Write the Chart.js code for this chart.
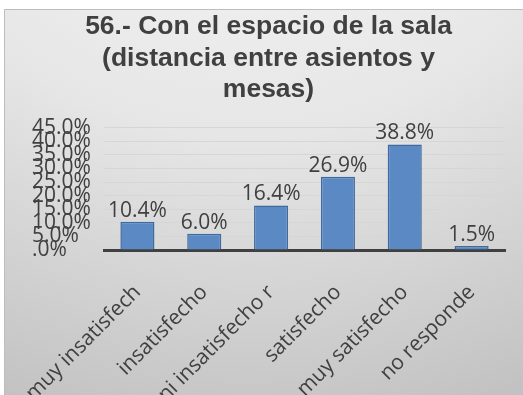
<!DOCTYPE html>
<html>
<head>
<meta charset="utf-8">
<script src="https://cdn.jsdelivr.net/npm/chart.js@4"></script>
<style>
  html, body { margin: 0; padding: 0; background: #ffffff; }
  #wrap { width: 523px; height: 395px; }
</style>
</head>
<body>
<div id="wrap"><canvas id="chart" width="523" height="395"></canvas></div>
<script>
// #### DATA ####
let titleLines = ["56.- Con el espacio de la sala", "(distancia entre asientos y", "mesas)"];
let categories = ["muy insatisfech", "insatisfecho", "ni insatisfecho r", "satisfecho", "muy satisfecho", "no responde"];
let percentValues = [10.4, 6.0, 16.4, 26.9, 38.8, 1.5];
let yMax = 45;
let yStep = 5;

let textColor = "#404040";
let labelFont = "'Open Sans', 'DejaVu Sans', sans-serif";

let formatPct = (v) => v === 0 ? ".0%" : v.toFixed(1) + "%";

// #### PLUGINS ####
// panel background: white margin, then a shaded grey panel with a thin border
let panelBackground = {
    id: "panelBackground",
    beforeDraw(chart) {
        let ctx = chart.ctx;
        let w = chart.width, h = chart.height;
        ctx.save();
        ctx.fillStyle = "#ffffff";
        ctx.fillRect(0, 0, w, h);
        let grad = ctx.createRadialGradient(250, -260, 150, 250, -260, 700);
        grad.addColorStop(0, "#f4f4f4");
        grad.addColorStop(0.45, "#e6e6e6");
        grad.addColorStop(1, "#c2c2c2");
        ctx.fillStyle = grad;
        ctx.fillRect(4, 9, w, h);
        ctx.strokeStyle = "#bdbdbd";
        ctx.lineWidth = 1;
        ctx.beginPath();
        ctx.moveTo(4.5, h);
        ctx.lineTo(4.5, 9.5);
        ctx.lineTo(w, 9.5);
        ctx.stroke();
        ctx.restore();
    }
};

// value labels above each bar
let barValueLabels = {
    id: "barValueLabels",
    afterDatasetsDraw(chart) {
        let ctx = chart.ctx;
        let meta = chart.getDatasetMeta(0);
        ctx.save();
        ctx.font = "21px " + labelFont;
        ctx.fillStyle = textColor;
        ctx.textAlign = "center";
        ctx.textBaseline = "alphabetic";
        meta.data.forEach((bar, i) => {
            ctx.fillText(formatPct(chart.data.datasets[0].data[i]), bar.x, bar.y - 5);
        });
        ctx.restore();
    }
};

// #### CHART ####
let myChart = new Chart(document.getElementById("chart").getContext("2d"), {
    type: "bar",
    data: {
        labels: categories,
        datasets: [{
            data: percentValues,
            backgroundColor: "#5b89c4",
            borderColor: "#3f6a9e",
            borderWidth: 1.5,
            barPercentage: 0.51,
            categoryPercentage: 1
        }]
    },
    options: {
        responsive: false,
        animation: false,
        devicePixelRatio: 1,
        layout: {padding: {left: 32, right: 18, top: 0, bottom: 0}},
        plugins: {
            legend: {display: false},
            tooltip: {enabled: false},
            title: {
                display: true,
                text: titleLines,
                color: textColor,
                font: {family: "'Liberation Sans', Arial, sans-serif", size: 26.5, weight: "bold", lineHeight: 1.19},
                padding: {top: 11, bottom: 22}
            }
        },
        scales: {
            x: {
                grid: {display: false, drawTicks: false},
                border: {display: true, color: "#404040", width: 3},
                ticks: {
                    color: textColor,
                    font: {family: labelFont, size: 21},
                    minRotation: 45,
                    maxRotation: 45,
                    autoSkip: false,
                    padding: 30
                },
                afterFit: (scale) => {
                    scale.height = 145;
                    scale.paddingLeft = 0;
                    scale.paddingRight = 0;
                }
            },
            y: {
                min: 0,
                max: yMax,
                grid: {color: "#d6d6d6", lineWidth: 1, drawTicks: false},
                border: {display: false},
                ticks: {
                    stepSize: yStep,
                    autoSkip: false,
                    color: textColor,
                    font: {family: labelFont, size: 21},
                    crossAlign: "far",
                    callback: (v) => formatPct(v)
                },
                afterFit: (scale) => { scale.width = 72; }
            }
        }
    },
    plugins: [panelBackground, barValueLabels]
});
</script>
</body>
</html>
